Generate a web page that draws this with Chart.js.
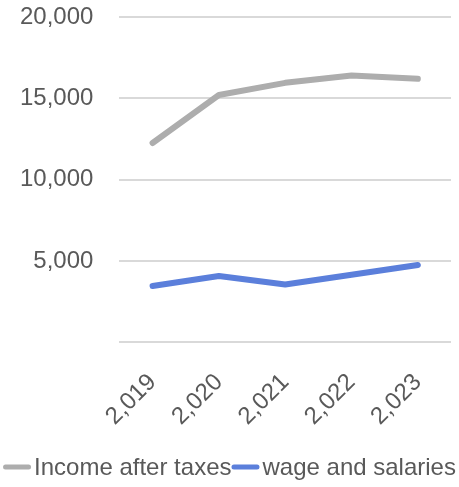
<!DOCTYPE html>
<html>
<head>
<meta charset="utf-8">
<script src="https://cdn.jsdelivr.net/npm/chart.js@4/dist/chart.umd.min.js"></script>
<style>
  html, body { margin: 0; padding: 0; background: #fff; }
  #wrap { width: 459px; height: 487px; }
</style>
</head>
<body>
<div id="wrap"><canvas id="chart"></canvas></div>
<script>
const years = ['2,019', '2,020', '2,021', '2,022', '2,023'];
const incomeAfterTaxes = [12250, 15200, 15950, 16400, 16200];
const wageAndSalaries = [3450, 4070, 3550, 4150, 4750];
const yTicks = [0, 5000, 10000, 15000, 20000];

const textColor = '#595959';
const fontFamily = '"Liberation Sans", Arial, Helvetica, sans-serif';
const legendFont = '24px ' + fontFamily;

// compact single-row legend: short line swatch, text right after it
const inlineLegend = {
  id: 'inlineLegend',
  afterDraw(chart) {
    const ctx = chart.ctx;
    const swatch = 28, gap = 3;
    ctx.save();
    ctx.font = legendFont;
    const items = chart.data.datasets.map(ds => ({
      ds, w: swatch + gap + ctx.measureText(ds.label).width
    }));
    const total = items.reduce((s, it) => s + it.w, 0);
    let x = (chart.width - total) / 2;
    const y = chart.height - 20;
    items.forEach(({ ds, w }) => {
      ctx.strokeStyle = ds.borderColor;
      ctx.lineWidth = 5;
      ctx.lineCap = 'round';
      ctx.beginPath();
      ctx.moveTo(x + 2.5, y);
      ctx.lineTo(x + swatch - 2.5, y);
      ctx.stroke();
      ctx.fillStyle = textColor;
      ctx.textBaseline = 'middle';
      ctx.textAlign = 'left';
      ctx.fillText(ds.label, x + swatch + gap, y + 1);
      x += w;
    });
    ctx.restore();
  }
};

new Chart(document.getElementById('chart'), {
  type: 'line',
  data: {
    labels: years,
    datasets: [
      {
        label: 'Income after taxes',
        data: incomeAfterTaxes,
        borderColor: '#ADADAD',
        borderWidth: 6,
        borderCapStyle: 'round',
        borderJoinStyle: 'round',
        pointRadius: 0,
        tension: 0
      },
      {
        label: 'wage and salaries',
        data: wageAndSalaries,
        borderColor: '#5B7FDB',
        borderWidth: 6,
        borderCapStyle: 'round',
        borderJoinStyle: 'round',
        pointRadius: 0,
        tension: 0
      }
    ]
  },
  options: {
    responsive: true,
    maintainAspectRatio: false,
    animation: false,
    layout: { padding: { top: 2, right: 8, left: -6, bottom: 30 } },
    plugins: {
      tooltip: { enabled: false },
      legend: { display: false }
    },
    scales: {
      x: {
        offset: true,
        grid: { display: false, drawTicks: false },
        border: { display: false },
        ticks: {
          color: textColor,
          font: { family: fontFamily, size: 24 },
          minRotation: 45,
          maxRotation: 45,
          padding: 26
        },
        // rotated labels otherwise push the plot inwards
        afterFit(scale) {
          scale.paddingLeft = 0;
          scale.paddingRight = 0;
        }
      },
      y: {
        min: 0,
        max: 20000,
        afterBuildTicks(axis) {
          axis.ticks = yTicks.map(v => ({ value: v }));
        },
        afterFit(scale) {
          scale.paddingTop = 17;
          scale.paddingBottom = 0;
        },
        grid: { color: '#D9D9D9', lineWidth: 2, drawTicks: false },
        border: { display: false },
        ticks: {
          color: textColor,
          font: { family: fontFamily, size: 24 },
          padding: 26,
          callback: v => v === 0 ? '' : v.toLocaleString('en-US')
        }
      }
    }
  },
  plugins: [inlineLegend]
});
</script>
</body>
</html>
